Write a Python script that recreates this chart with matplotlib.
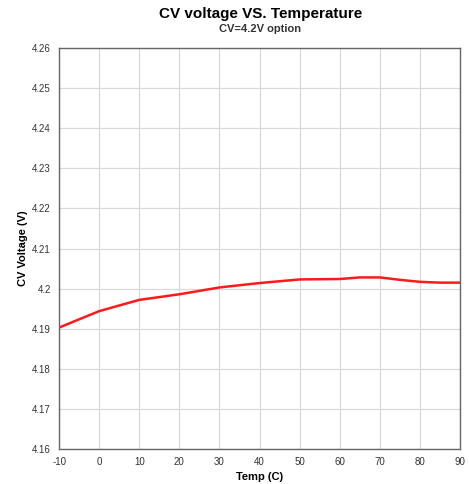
import matplotlib.pyplot as plt

temps = [-10, 0, 10, 20, 30, 40, 50, 60, 65, 70, 75, 80, 85, 90]
cv_volts = [4.1903, 4.1944, 4.1972, 4.1986, 4.2003, 4.2014, 4.2023, 4.2024, 4.2028, 4.2028, 4.2022, 4.2017, 4.2015, 4.2015]

x_ticks = list(range(-10, 91, 10))
y_ticks = [4.16, 4.17, 4.18, 4.19, 4.2, 4.21, 4.22, 4.23, 4.24, 4.25, 4.26]
y_labels = ['4.16', '4.17', '4.18', '4.19', '4.2', '4.21', '4.22', '4.23', '4.24', '4.25', '4.26']

plt.rcParams['font.family'] = ['Liberation Sans', 'DejaVu Sans']
plt.rcParams['axes.unicode_minus'] = False

fig = plt.figure(figsize=(4.69, 4.84), dpi=100)
ax = fig.add_axes([0.126, 0.072, 0.855, 0.829])

ax.plot(temps, cv_volts, color='#ff1a1a', lw=1.8)

ax.set_xlim(-10, 90)
ax.set_ylim(4.16, 4.26)
ax.set_xticks(x_ticks)
ax.set_yticks(y_ticks)
ax.set_yticklabels(y_labels)
ax.tick_params(length=0, labelsize=7, colors='#333333', pad=6)
ax.grid(color='#d9d9d9', lw=0.9)
for s in ax.spines.values():
    s.set_color('#666666')
    s.set_linewidth(1.0)

ax.set_xlabel('Temp (C)', fontsize=8, fontweight='bold', labelpad=3)
ax.set_ylabel('CV Voltage (V)', fontsize=8, fontweight='bold', labelpad=3)

fig.text(0.555, 0.972, 'CV voltage VS. Temperature', ha='center', va='center',
         fontsize=11, fontweight='bold')
fig.text(0.555, 0.940, 'CV=4.2V option', ha='center', va='center',
         fontsize=8, fontweight='bold', color='#333333')

fig.savefig('out.png', dpi=100)
